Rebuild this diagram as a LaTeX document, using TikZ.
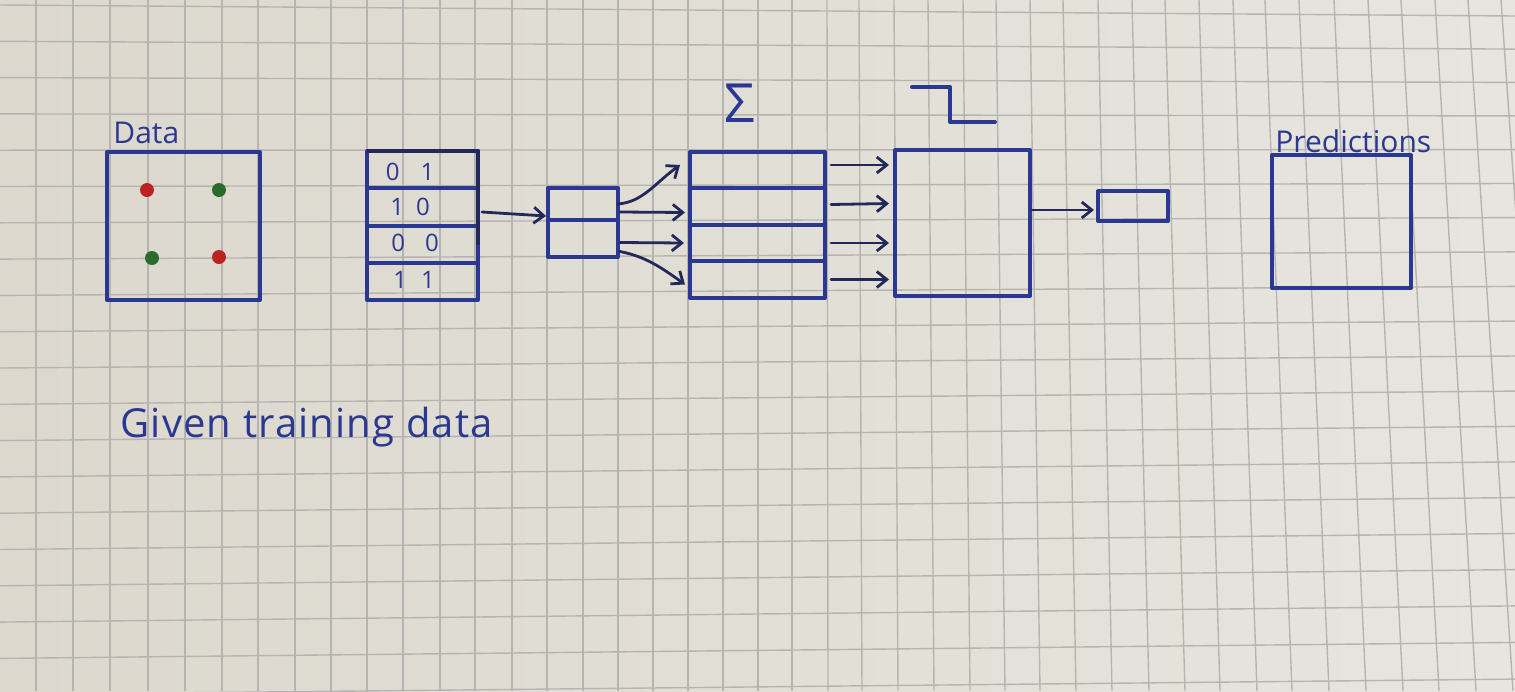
\documentclass[tikz,border=0pt]{standalone}
\usepackage{fontspec}
\setmainfont{Open Sans}
\usetikzlibrary{arrows.meta,fit,calc}
\definecolor{paperL}{RGB}{220,216,206}
\definecolor{paperR}{RGB}{231,229,222}
\definecolor{gridc}{RGB}{182,180,176}
\definecolor{pen}{RGB}{42,56,145}
\definecolor{ink}{RGB}{34,40,88}
\definecolor{dotred}{RGB}{188,36,34}
\definecolor{dotgreen}{RGB}{42,108,46}
\begin{document}
\begin{tikzpicture}[x=0.5pt,y=-0.5pt,
  box/.style={draw=pen,line width=2pt,inner sep=0pt,outer sep=0pt,line join=round},
  arr/.style={draw=ink,line width=1.4pt,line cap=round,-{Straight Barb[length=5pt,width=8pt,line width=1.4pt]}},
  lbl/.style={text=pen,font=\fontsize{15}{15}\selectfont,inner sep=0pt},
  num/.style={text=pen,font=\fontsize{12}{12}\selectfont,inner sep=0pt},
  dot/.style={circle,inner sep=0pt,minimum size=7pt},
  gridline/.style={draw=gridc,line width=0.7pt},
  penline/.style={draw=pen,line width=2pt,line join=round,line cap=round}]
% paper
\shade[left color=paperL,right color=paperR] (0,0) rectangle (1515,691);
\useasboundingbox (0,0) rectangle (1515,691);
% grid: vertical lines (top x / bottom x)
\foreach \a/\b in {36/36,73/73,110/110,148/148,185/185,222/222,258/258,295/295,
  331/331,367/367,403/403,440/440,475/475,512/512,547/547,583/583,618/618,
  653/653,688/688,723/723,758/758,792/792,827/828,859/862,894/898,928/934,
  963/970,996/1005,1030/1040,1063/1076,1098/1112,1132/1149,1165/1185,
  1199/1220,1233/1257,1265/1292,1299/1329,1334/1366,1368/1403,1401/1439,
  1435/1476,1468/1513,1501/1549}
  \draw[gridline] (\a,0) -- (\b,691);
% grid: horizontal lines (left y / right y)
\foreach \a/\b in {5/16,41.3/49.1,77.6/82.4,113.9/115.9,150.2/149.6,186.5/183.5,
  222.8/217.6,259.1/251.9,295.4/286.4,331.7/321.1,368/356,404.3/391.1,
  440.6/426.4,476.9/461.9,513.2/497.6,549.5/533.5,585.8/569.6,622.1/605.9,
  658.4/642.4,694.7/679.1}
  \draw[gridline] (0,\a) -- (1515,\b);
% Data
\node[box,fit={(107,152)(260,300)}] (data) {};
\node[lbl,anchor=base west] (datalbl) at (113,143) {Data};
\node[dot,fill=dotred] (d1) at (147,190) {};
\node[dot,fill=dotgreen] (d2) at (219,190) {};
\node[dot,fill=dotgreen] (d3) at (152,258) {};
\node[dot,fill=dotred] (d4) at (219,257) {};
% table
\node[box,fit={(367,151)(478,188)}] (t1) {};
\node[box,fit={(367,188)(478,226)}] (t2) {};
\node[box,fit={(367,226)(478,263)}] (t3) {};
\node[box,fit={(367,263)(478,300)}] (t4) {};
\draw[draw=ink,line width=2pt,line join=round] (t1.north west) -- (t1.north east) -- (t3.east);
\node[num] (n1) at (410,172) {0\hspace{10.5pt}1};
\node[num] (n2) at (410,207) {1\hspace{6pt}0};
\node[num] (n3) at (415,243) {0\hspace{10pt}0};
\node[num] (n4) at (414,280) {1\hspace{7pt}1};
% small box
\node[box,fit={(548,188)(618,220)}] (s1) {};
\node[box,fit={(548,220)(618,257)}] (s2) {};
% sum block
\node[box,fit={(690,152)(825,188)}] (g1) {};
\node[box,fit={(690,188)(825,225)}] (g2) {};
\node[box,fit={(690,225)(825,261)}] (g3) {};
\node[box,fit={(690,261)(825,298)}] (g4) {};
\node[text=pen,font=\fontsize{27}{27}\selectfont,inner sep=0pt] (sigma) at (740,103) {Σ};
% step block
\node[box,fit={(895,150)(1030,296)}] (step) {};
\draw[penline] (912,87) -- (950,87) -- (950,122) -- (995,122);
% output
\node[box,fit={(1098,191)(1168,221)}] (out) {};
\node[box,fit={(1272,155)(1411,288)}] (pred) {};
\node[lbl,anchor=base west] (predlbl) at (1275,152) {Predictions};
% caption
\node[lbl,font=\fontsize{20}{20}\selectfont\addfontfeatures{LetterSpace=3},anchor=base west] (given) at (120,437) {Given training data};
% arrows
\draw[arr] ($(t2.east)+(4,5)$) -- ($(s2.north west)+(-2,-4)$);
\draw[arr] (s1.east) .. controls +(25,-2) and +(-25,18) .. ($(g1.west)+(-10,-5)$);
\draw[arr] ($(s1.east)+(2,8)$) -- ($(g2.west)+(-5,6)$);
\draw[arr] ($(s2.east)+(2,4)$) -- ($(g3.west)+(-6,0)$);
\draw[arr] ($(s2.east)+(2,13)$) .. controls +(25,5) and +(-25,-18) .. ($(g4.west)+(-5,5)$);
\draw[arr] ($(g1.east)+(6,-5)$) -- ($(step.west |- g1.east)+(-6,-5)$);
\draw[arr] ($(g2.east)+(6,-2)$) -- ($(step.west |- g2.east)+(-6,-3)$);
\draw[arr] ($(g3.east)+(6,0)$) -- ($(step.west |- g3.east)+(-6,0)$);
\draw[arr] ($(g4.east)+(6,0)$) -- ($(step.west |- g4.east)+(-6,0)$);
\draw[arr] ($(step.east |- out.west)+(2,4)$) -- ($(out.west)+(-4,4)$);
\end{tikzpicture}
\end{document}
